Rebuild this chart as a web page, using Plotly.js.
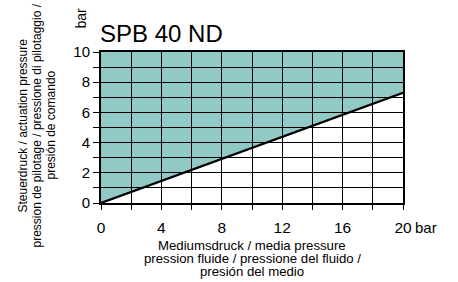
<!DOCTYPE html>
<html><head><meta charset="utf-8">
<script src="https://cdn.plot.ly/plotly-3.0.1.min.js"></script>
<style>body{margin:0;background:#fff}#c{width:458px;height:282px}</style>
</head><body><div id="c"></div>
<script>
// data
const mediaPressure = [0, 20];            // bar
const actuationPressure = [0, 7.3];       // bar (minimum pilot pressure line)
const yMax = 10;
const xTickVals = [0, 4, 8, 12, 16, 20];
const xTickText = ['0', '4', '8', '12', '16', '20'];
const yTickVals = [0, 2, 4, 6, 8, 10];
const yTickText = ['0', '2', '4', '6', '8', '10'];
const titleText = 'SPB 40 ND';
const unitText = 'bar';
const xTitleLines = ['Mediumsdruck / media pressure', 'pression fluide / pressione del fluido /', 'presión del medio'];
const yTitleLines = ['Steuerdruck / actuation pressure', 'pression de pilotage / pressione di pilotaggio /', 'presión de comando'];

// filled region above the line, built from data
const fx = mediaPressure.concat([mediaPressure[1], mediaPressure[0]]);
const fy = actuationPressure.concat([yMax, yMax]);
const path = 'M' + fx.map((x, i) => x + ',' + fy[i]).join(' L') + ' Z';

const font = 'Liberation Sans, Arial, sans-serif';
const traces = [{
  x: mediaPressure, y: actuationPressure, mode: 'lines', type: 'scatter',
  line: {color: '#000', width: 2.2}, hoverinfo: 'skip', cliponaxis: false
}];
const ann = [
  {text: titleText, xref: 'paper', yref: 'paper', x: 0, y: 1, xanchor: 'left', yanchor: 'bottom', xshift: -3, yshift: 3, showarrow: false, font: {size: 24, family: font}},
  {text: unitText, xref: 'paper', yref: 'paper', x: 1, y: 0, xanchor: 'left', yanchor: 'middle', xshift: 10, yshift: -24, showarrow: false, font: {size: 15, family: font}},
  {text: unitText, xref: 'paper', yref: 'paper', x: 0, y: 1, xanchor: 'center', yanchor: 'bottom', xshift: -21, yshift: 21, textangle: -90, showarrow: false, font: {size: 14, family: font}}
];
xTitleLines.forEach((t, i) => ann.push({text: t, xref: 'paper', yref: 'paper', x: 0.5, y: 0, xanchor: 'center', yanchor: 'middle',
  yshift: -42 - 13 * i, showarrow: false, font: {size: 13.2, family: font}}));
yTitleLines.forEach((t, i) => ann.push({text: t, xref: 'paper', yref: 'paper', x: 0, y: 0.5, xanchor: 'center', yanchor: 'middle',
  xshift: -79 + 14 * i, yshift: 2, textangle: -90, showarrow: false, font: {size: 12, family: font}}));

const layout = {
  width: 458, height: 282,
  margin: {l: 101, r: 55, t: 52, b: 79},
  paper_bgcolor: '#fff', plot_bgcolor: '#fff',
  showlegend: false,
  font: {family: font, color: '#000'},
  xaxis: {
    range: [0, 20], tickmode: 'array', tickvals: xTickVals, ticktext: xTickText,
    showgrid: true, gridcolor: '#000', gridwidth: 1,
    minor: {dtick: 2, tick0: 0, ticks: 'outside', ticklen: 5, tickcolor: '#000', showgrid: true, gridcolor: '#000', gridwidth: 1},
    ticks: 'outside', ticklen: 5, tickcolor: '#000', tickwidth: 1, ticklabelstandoff: 4,
    showline: true, linecolor: '#000', linewidth: 2, mirror: true,
    zeroline: false, tickfont: {size: 15.5, family: font}, fixedrange: true
  },
  yaxis: {
    range: [0, yMax], tickmode: 'array', tickvals: yTickVals, ticktext: yTickText,
    showgrid: true, gridcolor: '#000', gridwidth: 1,
    minor: {dtick: 1, tick0: 0, ticks: 'outside', ticklen: 6, tickcolor: '#000', showgrid: true, gridcolor: '#000', gridwidth: 1},
    ticks: 'outside', ticklen: 6, tickcolor: '#000', tickwidth: 1,
    showline: true, linecolor: '#000', linewidth: 2, mirror: true,
    zeroline: false, tickfont: {size: 15, family: font}, fixedrange: true
  },
  shapes: [{type: 'path', path: path, xref: 'x', yref: 'y', layer: 'below',
    fillcolor: '#90c9c5', line: {width: 0}}],
  annotations: ann
};
Plotly.newPlot('c', traces, layout, {displayModeBar: false, staticPlot: true});
</script></body></html>
